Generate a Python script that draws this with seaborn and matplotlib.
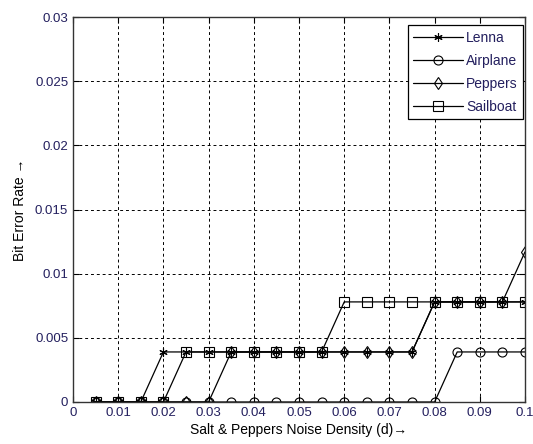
import matplotlib
matplotlib.use("Agg")
import matplotlib.pyplot as plt
import seaborn as sns
import numpy as np
import pandas as pd

sns.set_style("white")
plt.rcParams['font.family'] = ['Liberation Sans', 'DejaVu Sans']

density = [0.005, 0.01, 0.015, 0.02, 0.025, 0.03, 0.035, 0.04, 0.045, 0.05,
           0.055, 0.06, 0.065, 0.07, 0.075, 0.08, 0.085, 0.09, 0.095, 0.1]
lenna    = [0, 0, 0, 0.0039, 0.0039, 0.0039, 0.0039, 0.0039, 0.0039, 0.0039,
            0.0039, 0.0039, 0.0039, 0.0039, 0.0039, 0.0078, 0.0078, 0.0078, 0.0078, 0.0078]
airplane = [0, 0, 0, 0, 0, 0, 0, 0, 0, 0,
            0, 0, 0, 0, 0, 0, 0.0039, 0.0039, 0.0039, 0.0039]
peppers  = [0, 0, 0, 0, 0, 0, 0.0039, 0.0039, 0.0039, 0.0039,
            0.0039, 0.0039, 0.0039, 0.0039, 0.0039, 0.0078, 0.0078, 0.0078, 0.0078, 0.0117]
sailboat = [0, 0, 0, 0, 0.0039, 0.0039, 0.0039, 0.0039, 0.0039, 0.0039,
            0.0039, 0.0078, 0.0078, 0.0078, 0.0078, 0.0078, 0.0078, 0.0078, 0.0078, 0.0078]
series_names = ["Lenna", "Airplane", "Peppers", "Sailboat"]
x_ticks = [0, 0.01, 0.02, 0.03, 0.04, 0.05, 0.06, 0.07, 0.08, 0.09, 0.1]
x_tick_labels = ["0", "0.01", "0.02", "0.03", "0.04", "0.05", "0.06", "0.07", "0.08", "0.09", "0.1"]
y_ticks = [0, 0.005, 0.01, 0.015, 0.02, 0.025, 0.03]
y_tick_labels = ["0", "0.005", "0.01", "0.015", "0.02", "0.025", "0.03"]

values = [lenna, airplane, peppers, sailboat]
markers = [(6, 2, 0), "o", "d", "s"]
msizes = [6, 6.5, 6.5, 6.5]

fig = plt.figure(figsize=(5.33, 4.44), dpi=100)
ax = fig.add_axes([0.137, 0.0946, 0.848, 0.867])

tick_color = "#231f5e"
for name, vals, mk, ms in zip(series_names, values, markers, msizes):
    df = pd.DataFrame({"d": density, "ber": vals})
    sns.lineplot(data=df, x="d", y="ber", ax=ax, color="black", linewidth=0.9,
                 marker=mk, markersize=ms, markerfacecolor="none",
                 markeredgecolor="black", markeredgewidth=0.8, label=name)

ax.set_xlim(0, 0.1)
ax.set_ylim(0, 0.03)
ax.set_xticks(x_ticks)
ax.set_xticklabels(x_tick_labels)
ax.set_yticks(y_ticks)
ax.set_yticklabels(y_tick_labels)
ax.grid(True, color="black", linestyle=(0, (3, 3)), linewidth=0.7)
ax.tick_params(direction="in", length=4, width=0.8, colors="black",
               labelcolor=tick_color, labelsize=9.5, top=True, right=True,
               bottom=True, left=True)
for s in ax.spines.values():
    s.set_color("#333333")
    s.set_linewidth(1.0)

ax.set_xlabel("Salt & Peppers Noise Density (d)\u2192", fontsize=10, color="black", labelpad=3)
ax.set_ylabel("Bit Error Rate \u2192", fontsize=10, color="black", labelpad=6)

leg = ax.legend(loc="upper right", bbox_to_anchor=(0.996, 0.979), fontsize=10,
                frameon=True, fancybox=False, framealpha=1,
                edgecolor="black", borderpad=0.4, labelspacing=0.65,
                handlelength=3.6, handletextpad=0.2, borderaxespad=0.0)
leg.get_frame().set_linewidth(0.9)
for t in leg.get_texts():
    t.set_color(tick_color)

fig.savefig("out.png", dpi=100, facecolor="white")
